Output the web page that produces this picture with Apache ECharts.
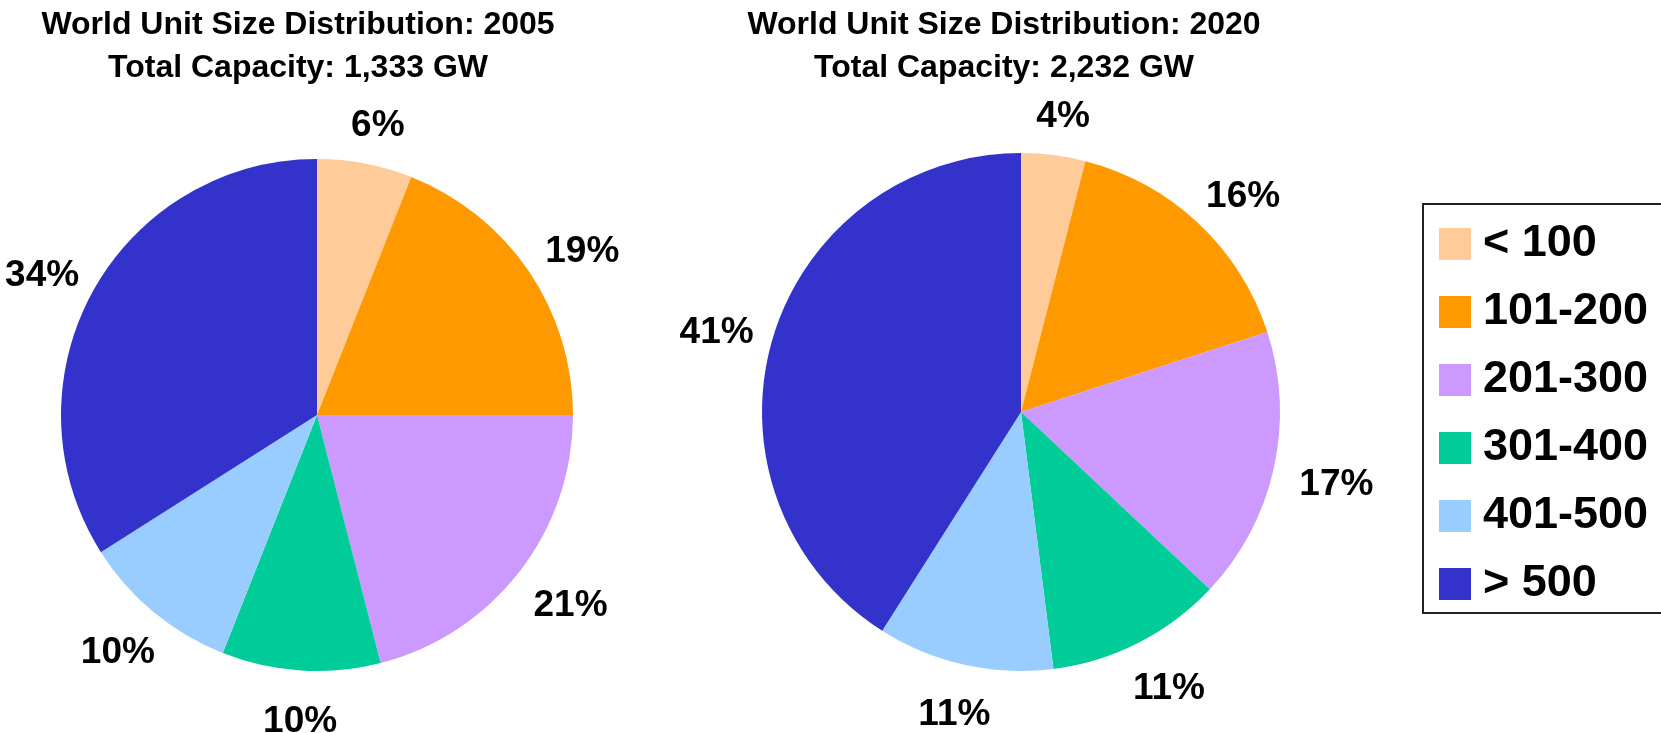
<!DOCTYPE html>
<html><head><meta charset="utf-8">
<script src="https://cdn.jsdelivr.net/npm/echarts@6/dist/echarts.min.js"></script>
<style>html,body{margin:0;padding:0;background:#fff}#c{width:1661px;height:733px}</style>
</head><body><div id="c"></div>
<script>
const categories = ['< 100', '101-200', '201-300', '301-400', '401-500', '> 500'];
const share2005 = [6, 19, 21, 10, 10, 34];
const share2020 = [4, 16, 17, 11, 11, 41];
const colors = ['#FFCC99', '#FF9900', '#CC99FF', '#00CC99', '#99CCFF', '#3333CC'];
const titleTexts = [
  'World Unit Size Distribution: 2005\nTotal Capacity: 1,333 GW',
  'World Unit Size Distribution: 2020\nTotal Capacity: 2,232 GW'
];

const FONT = 'Liberation Sans, Arial, sans-serif';

function toData(vals) {
  return categories.map((n, i) => ({ name: n, value: vals[i], itemStyle: { color: colors[i] } }));
}

// Place each label just outside the pie edge, along the direction of its slice
// (direction taken from the library's own inside-label position).
function outsideLayout(cx, cy, r, gap) {
  return function (p) {
    const lr = p.labelRect;
    const mx = lr.x + lr.width / 2, my = lr.y + lr.height / 2;
    let ux = mx - cx, uy = my - cy;
    const d = Math.hypot(ux, uy) || 1;
    ux /= d; uy /= d;
    return {
      x: cx + ux * (r + gap) + ux * lr.width * 0.42 + 3,
      y: cy + uy * (r + gap) + uy * 15 + 6,
      align: 'center', verticalAlign: 'middle'
    };
  };
}

function pieSeries(vals, center, r) {
  return {
    type: 'pie', center: center, radius: r, startAngle: 90, clockwise: true,
    data: toData(vals), emphasis: { disabled: true }, silent: true,
    itemStyle: { borderWidth: 0 }, avoidLabelOverlap: false,
    label: {
      show: true, position: 'inside', rotate: 0, formatter: '{c}%',
      fontSize: 37, fontWeight: 'bold', fontFamily: FONT, color: '#000'
    },
    labelLine: { show: false },
    labelLayout: outsideLayout(center[0], center[1], r, 30)
  };
}

const chart = echarts.init(document.getElementById('c'));
chart.setOption({
  animation: false,
  backgroundColor: '#fff',
  title: [
    { text: titleTexts[0], left: 298, top: 4, padding: 0, textAlign: 'center',
      textStyle: { fontSize: 32, fontWeight: 'bold', fontFamily: FONT, color: '#000', lineHeight: 43 } },
    { text: titleTexts[1], left: 1004, top: 4, padding: 0, textAlign: 'center',
      textStyle: { fontSize: 32, fontWeight: 'bold', fontFamily: FONT, color: '#000', lineHeight: 43 } }
  ],
  legend: {
    orient: 'vertical', left: 1423, top: 204, padding: [17, 14, 6, 16],
    itemWidth: 32, itemHeight: 32, itemGap: 22, icon: 'rect',
    borderColor: '#222', borderWidth: 2, selectedMode: false,
    textStyle: { fontSize: 45, fontWeight: 'bold', fontFamily: FONT, color: '#000', lineHeight: 46, padding: [0, 0, 0, 7] },
    data: categories
  },
  series: [
    pieSeries(share2005, [317, 415], 256),
    pieSeries(share2020, [1021, 412], 259)
  ]
});
</script></body></html>
